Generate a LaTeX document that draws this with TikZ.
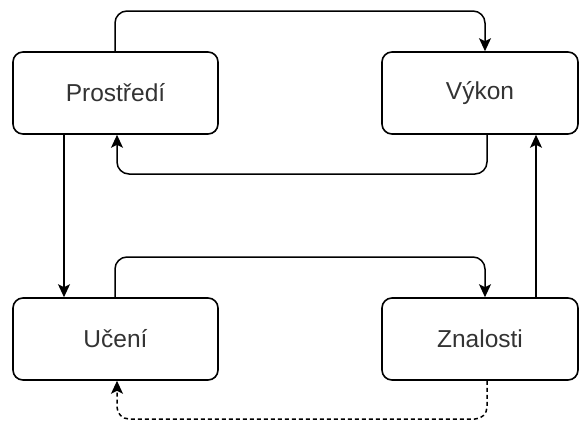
\documentclass[tikz,border=0pt]{standalone}
\usepackage{fontspec}
\setmainfont{Liberation Sans}
\usetikzlibrary{arrows.meta}
\begin{document}
\begin{tikzpicture}[x=1pt,y=-1pt,
  box/.style={draw, line width=1.6pt, rounded corners=10pt, fill=white, text=black!80,
    font=\fontsize{24.5}{28}\selectfont},
  conn/.style={line width=1.5pt, rounded corners=12pt, -{Stealth[length=13pt,width=12pt,inset=3pt]}}]
\useasboundingbox (0,0) rectangle (579,421);
\node[box, minimum width=205pt, minimum height=82pt] (p) at (115.5,93) {Prostředí};
\node[box, minimum width=196pt, minimum height=82pt] (v) at (480,93) {Výkon};
\node[box, minimum width=205pt, minimum height=82pt] (u) at (115.5,339) {Učení};
\node[box, minimum width=196pt, minimum height=82pt] (z) at (480,339) {Znalosti};
\coordinate (c1) at (115,11);
\coordinate (c2) at (485,11);
\coordinate (c3) at (487,174);
\coordinate (c4) at (117,174);
\coordinate (c5) at (115,257);
\coordinate (c6) at (485,257);
\coordinate (c7) at (487,419);
\coordinate (c8) at (117,419);
\draw[conn] (p.north -| c1) -- (c1) -- (c2) -- (v.north -| c2);
\draw[conn] (v.south -| c3) -- (c3) -- (c4) -- (p.south -| c4);
\draw[conn] (p.south -| 64,0) -- (u.north -| 64,0);
\draw[conn] (u.north -| c5) -- (c5) -- (c6) -- (z.north -| c6);
\draw[conn] (z.north -| 536,0) -- (v.south -| 536,0);
\draw[conn, dash pattern=on 4pt off 3pt] (z.south -| c7) -- (c7) -- (c8) -- (u.south -| c8);
\end{tikzpicture}
\end{document}
